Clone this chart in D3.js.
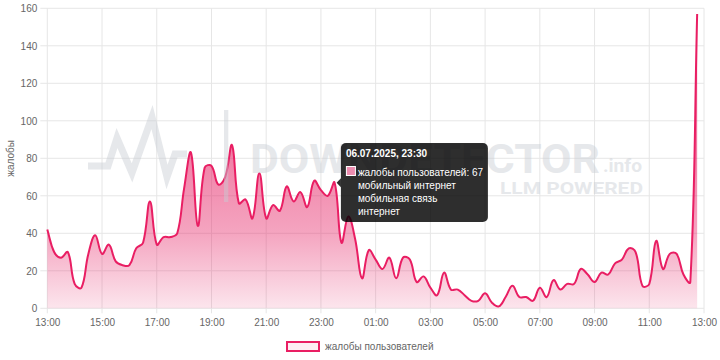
<!DOCTYPE html>
<html><head><meta charset="utf-8">
<script src="https://cdn.jsdelivr.net/npm/d3@7"></script>
<style>body{margin:0;background:#fff} svg{display:block;font-family:"Liberation Sans",Arial,sans-serif}</style>
</head><body><svg id="c" width="720" height="360"></svg>
<script>
// ---- data ----
const times = ["13:00","13:15","13:30","13:45","14:00","14:15","14:30","14:45","15:00","15:15","15:30","15:45",
"16:00","16:15","16:30","16:45","17:00","17:15","17:30","17:45","18:00","18:15","18:30","18:45",
"19:00","19:15","19:30","19:45","20:00","20:15","20:30","20:45","21:00","21:15","21:30","21:45",
"22:00","22:15","22:30","22:45","23:00","23:15","23:30","23:45",
"00:00","00:15","00:30","00:45","01:00","01:15","01:30","01:45","02:00","02:15","02:30","02:45",
"03:00","03:15","03:30","03:45","04:00","04:15","04:30","04:45","05:00","05:15","05:30","05:45",
"06:00","06:15","06:30","06:45","07:00","07:15","07:30","07:45","08:00","08:15","08:30","08:45",
"09:00","09:15","09:30","09:45","10:00","10:15","10:30","10:45","11:00","11:15","11:30","11:45",
"12:00","12:15","12:30","12:45"];
const values = [42,30,27,30,13,11,29,39,29,34,25,23,
23,32,35,57,34,38,38,40,64,83,44,75,
76,66,70,87,56,58,48,72,48,55,52,65,
57,62,54,68,63,60,67,35,
49,37,16,31,26,21,27,16,27,26,14,17,
11,7,19,10,10,7,4,4,8,3,1,6,
12,6,6,4,11,6,15,10,13,13,21,18,
14,19,18,24,26,32,30,12,13,36,21,29,
29,18,14,157];
const xTickLabels = ["13:00","15:00","17:00","19:00","21:00","23:00","01:00","03:00","05:00","07:00","09:00","11:00","13:00"];
const yTicks = [0,20,40,60,80,100,120,140,160];
const seriesName = "жалобы пользователей";
const yTitle = "жалобы";
const tooltipTitle = "06.07.2025, 23:30";
const tooltipIndex = 42;
const tooltipExtra = ["мобильный интернет","мобильная связь","интернет"];
const day1 = "2025-07-06", day2 = "2025-07-07";

// ---- setup ----
const parse = d3.timeParse("%Y-%m-%d %H:%M");
const toDate = (t, second) => parse(((!second && +t.slice(0,2) >= 13) ? day1 : day2) + " " + t);
const data = times.map((t,i)=>({date: toDate(t, false), v: values[i]}));
const xTicks = xTickLabels.map((t,i)=>toDate(t, i === xTickLabels.length-1));
const L = 47.3, R = 704, T = 8.3, B = 308.3;
const x = d3.scaleTime().domain([xTicks[0], xTicks[xTicks.length-1]]).range([L, R]);
const y = d3.scaleLinear().domain([0,160]).range([B, T]);
const svg = d3.select("#c");
const grid = "#e6e6e6", tickCol = "#666", lineCol = "#e91e63";

// grid
svg.append("g").selectAll("line").data(yTicks).join("line")
  .attr("x1", L-7).attr("x2", R).attr("y1", d=>y(d)).attr("y2", d=>y(d))
  .attr("stroke", grid).attr("stroke-width", 1);
svg.append("g").selectAll("line").data(xTicks).join("line")
  .attr("x1", d=>x(d)).attr("x2", d=>x(d)).attr("y1", T).attr("y2", B+5)
  .attr("stroke", grid).attr("stroke-width", 1);

// axes labels
const yAxis = svg.append("g").attr("transform",`translate(${L},0)`)
  .call(d3.axisLeft(y).tickValues(yTicks).tickSize(0).tickPadding(10));
yAxis.select(".domain").remove();
yAxis.selectAll("text").attr("fill", tickCol).attr("font-size", 10).attr("font-family","Liberation Sans, Arial, sans-serif");
const xAxis = svg.append("g").attr("transform",`translate(0,${B})`)
  .call(d3.axisBottom(x).tickValues(xTicks).tickFormat(d3.timeFormat("%H:%M")).tickSize(0).tickPadding(10.5));
xAxis.select(".domain").remove();
xAxis.selectAll("text").attr("fill", tickCol).attr("font-size", 10).attr("font-family","Liberation Sans, Arial, sans-serif");

svg.append("text").attr("transform",`translate(13.5,${(T+B)/2}) rotate(-90)`)
  .attr("text-anchor","middle").attr("font-size",10).attr("fill",tickCol).text(yTitle);

// chart.js-like spline curve (tension 0.4)
function ChartJsCurve(ctx){ this._context = ctx; }
ChartJsCurve.prototype = {
  areaStart(){ this._line = 0; }, areaEnd(){ this._line = NaN; },
  lineStart(){ this._pts = []; },
  point(a,b){ this._pts.push([+a,+b]); },
  lineEnd(){
    const p = this._pts, n = p.length, c = this._context, t = 0.4;
    if (!n) return;
    const cap = (v,lo,hi)=>Math.max(lo,Math.min(hi,v));
    const cp = p.map((cur,i)=>{
      const prev = p[i-1]||cur, next = p[i+1]||cur;
      const d01 = Math.hypot(cur[0]-prev[0],cur[1]-prev[1]);
      const d12 = Math.hypot(next[0]-cur[0],next[1]-cur[1]);
      let s01 = d01/(d01+d12), s12 = d12/(d01+d12);
      if (isNaN(s01)) s01 = 0; if (isNaN(s12)) s12 = 0;
      const fa = t*s01, fb = t*s12;
      return {px: cap(cur[0]-fa*(next[0]-prev[0]),L,R), py: cap(cur[1]-fa*(next[1]-prev[1]),T,B),
              nx: cap(cur[0]+fb*(next[0]-prev[0]),L,R), ny: cap(cur[1]+fb*(next[1]-prev[1]),T,B)};
    });
    if (this._line) c.lineTo(p[0][0],p[0][1]); else c.moveTo(p[0][0],p[0][1]);
    for (let i=1;i<n;i++) c.bezierCurveTo(cp[i-1].nx,cp[i-1].ny,cp[i].px,cp[i].py,p[i][0],p[i][1]);
    if (this._line || (this._line !== 0 && n === 1)) c.closePath();
    this._line = 1 - this._line;
  }
};
const curveChartJs = ctx => new ChartJsCurve(ctx);

// gradient
const defs = svg.append("defs");
const grad = defs.append("linearGradient").attr("id","fillGrad")
  .attr("gradientUnits","userSpaceOnUse").attr("x1",0).attr("x2",0).attr("y1",T).attr("y2",B);
[[0,0.78],[0.47,0.6],[0.75,0.42],[1,0.12]].forEach(([o,a])=>
  grad.append("stop").attr("offset",o).attr("stop-color","rgb(230,40,105)").attr("stop-opacity",a));

svg.append("path").datum(data)
  .attr("d", d3.area().x(d=>x(d.date)).y0(B).y1(d=>y(d.v)).curve(curveChartJs))
  .attr("fill","url(#fillGrad)");
svg.append("path").datum(data)
  .attr("d", d3.line().x(d=>x(d.date)).y(d=>y(d.v)).curve(curveChartJs))
  .attr("fill","none").attr("stroke",lineCol).attr("stroke-width",2).attr("stroke-linejoin","round");

// watermark
const wm = svg.append("g").attr("fill","rgb(200,205,212)").attr("opacity",0.45);
wm.append("polyline").attr("points","88,166 108,166 117,138 132,173 152,117 167,177 175,154 187,154")
  .attr("fill","none").attr("stroke","rgb(200,205,212)").attr("stroke-width",7);
wm.append("rect").attr("x",224).attr("y",110).attr("width",4.3).attr("height",92);
wm.append("text").attr("x",250).attr("y",173).attr("font-size",41).attr("font-weight","bold")
  .attr("font-family","Roboto, DejaVu Sans, sans-serif")
  .attr("textLength",350).attr("lengthAdjust","spacingAndGlyphs").text("DOWNDETECTOR");
wm.append("text").attr("x",603).attr("y",172).attr("font-size",19).attr("font-weight","bold")
  .attr("font-family","Roboto, DejaVu Sans, sans-serif")
  .attr("textLength",39).attr("lengthAdjust","spacingAndGlyphs").text(".info");
wm.append("text").attr("x",500).attr("y",193.5).attr("font-size",16).attr("font-weight","bold")
  .attr("font-family","Roboto, DejaVu Sans, sans-serif")
  .attr("textLength",143).attr("lengthAdjust","spacingAndGlyphs").text("LLM POWERED");

// tooltip
const tp = data[tooltipIndex];
const px = x(tp.date), py = y(tp.v);
const tg = svg.append("g");
const bx = px + 6.3, by = 143, bw = 147, bh = 79;
tg.append("rect").attr("x",bx).attr("y",by).attr("width",bw).attr("height",bh).attr("rx",5)
  .attr("fill","rgba(0,0,0,0.82)");
tg.append("path").attr("d",`M${bx},${py-4.5}L${px+2},${py}L${bx},${py+4.5}Z`).attr("fill","rgba(0,0,0,0.82)");
tg.append("text").attr("x",bx+5).attr("y",157).attr("font-size",10).attr("font-weight","bold")
  .attr("fill","#fff").text(tooltipTitle);
tg.append("rect").attr("x",bx+5.5).attr("y",166.5).attr("width",9).attr("height",9)
  .attr("fill","#ec8db0").attr("stroke","#fff").attr("stroke-width",1);
tg.append("text").attr("x",bx+17).attr("y",175.5).attr("font-size",10).attr("fill","#fff")
  .text(`${seriesName}: ${tp.v}`);
tooltipExtra.forEach((s,i)=>tg.append("text").attr("x",bx+17).attr("y",188.5+13*i)
  .attr("font-size",10).attr("fill","#fff").text(s));

// legend
const lg = svg.append("g");
lg.append("rect").attr("x",287).attr("y",342).attr("width",32).attr("height",9)
  .attr("fill","rgba(233,30,99,0.08)").attr("stroke",lineCol).attr("stroke-width",2);
lg.append("text").attr("x",325).attr("y",349.5).attr("font-size",10).attr("fill",tickCol).text(seriesName);
</script></body></html>
